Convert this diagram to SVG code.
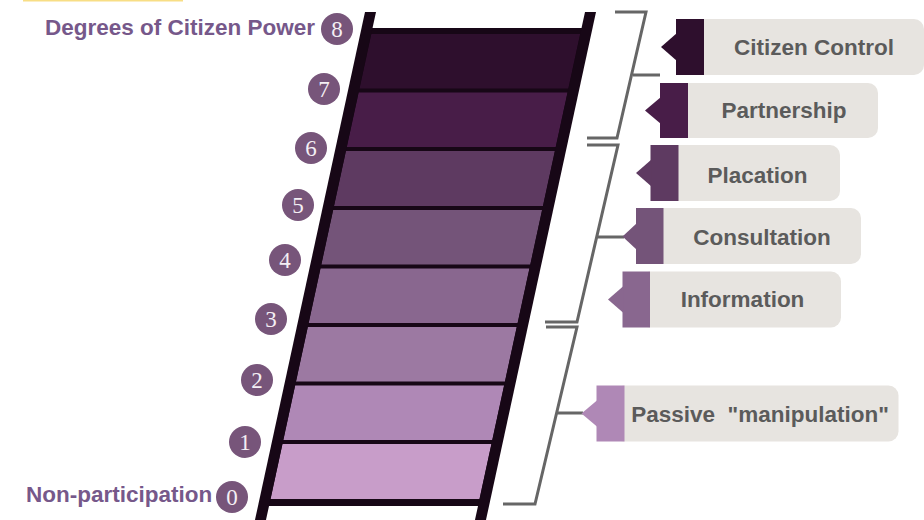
<svg xmlns="http://www.w3.org/2000/svg" width="924" height="520" viewBox="0 0 924 520">
<style>
.rail{fill:#170716}
.num circle{fill:#77557a}
.num text{font-family:"Liberation Serif","Times New Roman",serif;font-size:23px;fill:#f4eff4;text-anchor:middle}
.title{font-family:"Liberation Sans",Arial,sans-serif;font-weight:bold;font-size:22.5px;fill:#76588a}
.box{fill:#e7e4e0}
.lbl{font-family:"Liberation Sans",Arial,sans-serif;font-weight:bold;font-size:22.5px;fill:#5b5b5b;text-anchor:middle}
.br{fill:none;stroke:#666666;stroke-width:3;stroke-linejoin:miter}
</style>
<rect x="23" y="0" width="160" height="1.5" fill="#f8de85"/>
<g id="ladder" transform="skewX(-12.22)">
  <rect x="370" y="28" width="222" height="478" class="rail"/>
  <rect x="378.6" y="34" width="209" height="54.5" fill="#2e0f2d"/>
  <rect x="378.6" y="92.5" width="209" height="54.5" fill="#481d48"/>
  <rect x="378.6" y="151" width="209" height="55" fill="#5e3a61"/>
  <rect x="378.6" y="210" width="209" height="54.5" fill="#745479"/>
  <rect x="378.6" y="268.5" width="209" height="54.5" fill="#89678f"/>
  <rect x="378.6" y="327" width="209" height="54.5" fill="#9c79a2"/>
  <rect x="378.6" y="385.5" width="209" height="54.5" fill="#af88b6"/>
  <rect x="378.6" y="444" width="209" height="55" fill="#c89dc9"/>
  <rect x="367.6" y="12" width="11" height="520" class="rail"/>
  <rect x="587.6" y="12" width="11" height="520" class="rail"/>
</g>
<text class="title" x="45" y="35">Degrees of Citizen Power</text>
<text class="title" x="26" y="502">Non-participation</text>
<g id="n8" class="num"><circle cx="337" cy="29" r="16"/><text x="337" y="37">8</text></g>
<g id="n7" class="num"><circle cx="324" cy="89" r="16"/><text x="324" y="97">7</text></g>
<g id="n6" class="num"><circle cx="311" cy="148" r="16"/><text x="311" y="156">6</text></g>
<g id="n5" class="num"><circle cx="298" cy="205" r="16"/><text x="298" y="213">5</text></g>
<g id="n4" class="num"><circle cx="285" cy="260" r="16"/><text x="285" y="268">4</text></g>
<g id="n3" class="num"><circle cx="271" cy="319" r="16"/><text x="271" y="327">3</text></g>
<g id="n2" class="num"><circle cx="257" cy="380" r="16"/><text x="257" y="388">2</text></g>
<g id="n1" class="num"><circle cx="245" cy="442" r="16"/><text x="245" y="450">1</text></g>
<g id="n0" class="num"><circle cx="232" cy="497" r="16"/><text x="232" y="505">0</text></g>
<g id="connectors">
  <path class="br" d="M615,12 H646 L617,138 H587 M633,75 H660"/>
  <path class="br" d="M587,145 H618 L577,322 H545 M597,237 H624"/>
  <path class="br" d="M546,327 H577 L535,504 H503 M556,413 H583"/>
</g>
<g id="citizen-control">
  <rect class="box" x="694" y="19" width="230" height="56" rx="10"/>
  <rect x="676" y="19" width="28" height="56" fill="#2e0f2d"/>
  <polygon points="677,33 661,47 677,61" fill="#2e0f2d"/>
  <text class="lbl" x="814" y="55">Citizen Control</text>
</g>
<g id="partnership">
  <rect class="box" x="678" y="83" width="200" height="55" rx="10"/>
  <rect x="660" y="83" width="28" height="55" fill="#481d48"/>
  <polygon points="661,97 645,110.5 661,124" fill="#481d48"/>
  <text class="lbl" x="784" y="118">Partnership</text>
</g>
<g id="placation">
  <rect class="box" x="668" y="145" width="172" height="56" rx="10"/>
  <rect x="650.5" y="145" width="28" height="56" fill="#5e3a61"/>
  <polygon points="651.5,159.5 636,173 651.5,186.5" fill="#5e3a61"/>
  <text class="lbl" x="757.5" y="182.5">Placation</text>
</g>
<g id="consultation">
  <rect class="box" x="653" y="208" width="208" height="56" rx="10"/>
  <rect x="636" y="208" width="27.5" height="56" fill="#745479"/>
  <polygon points="637,223 622.5,236.5 637,250" fill="#745479"/>
  <text class="lbl" x="762" y="245">Consultation</text>
</g>
<g id="information">
  <rect class="box" x="640" y="271.5" width="201" height="56" rx="10"/>
  <rect x="622.5" y="271.5" width="27.5" height="56" fill="#89678f"/>
  <polygon points="623.5,286 608,299.5 623.5,313" fill="#89678f"/>
  <text class="lbl" x="742.5" y="306.5">Information</text>
</g>
<g id="passive-manipulation">
  <rect class="box" x="614" y="385.5" width="284.5" height="56" rx="10"/>
  <rect x="596.5" y="385.5" width="28" height="56" fill="#af88b6"/>
  <polygon points="597.5,400 581.5,413.5 597.5,427" fill="#af88b6"/>
  <text class="lbl" x="760" y="421.5" xml:space="preserve">Passive  "manipulation"</text>
</g>
</svg>
